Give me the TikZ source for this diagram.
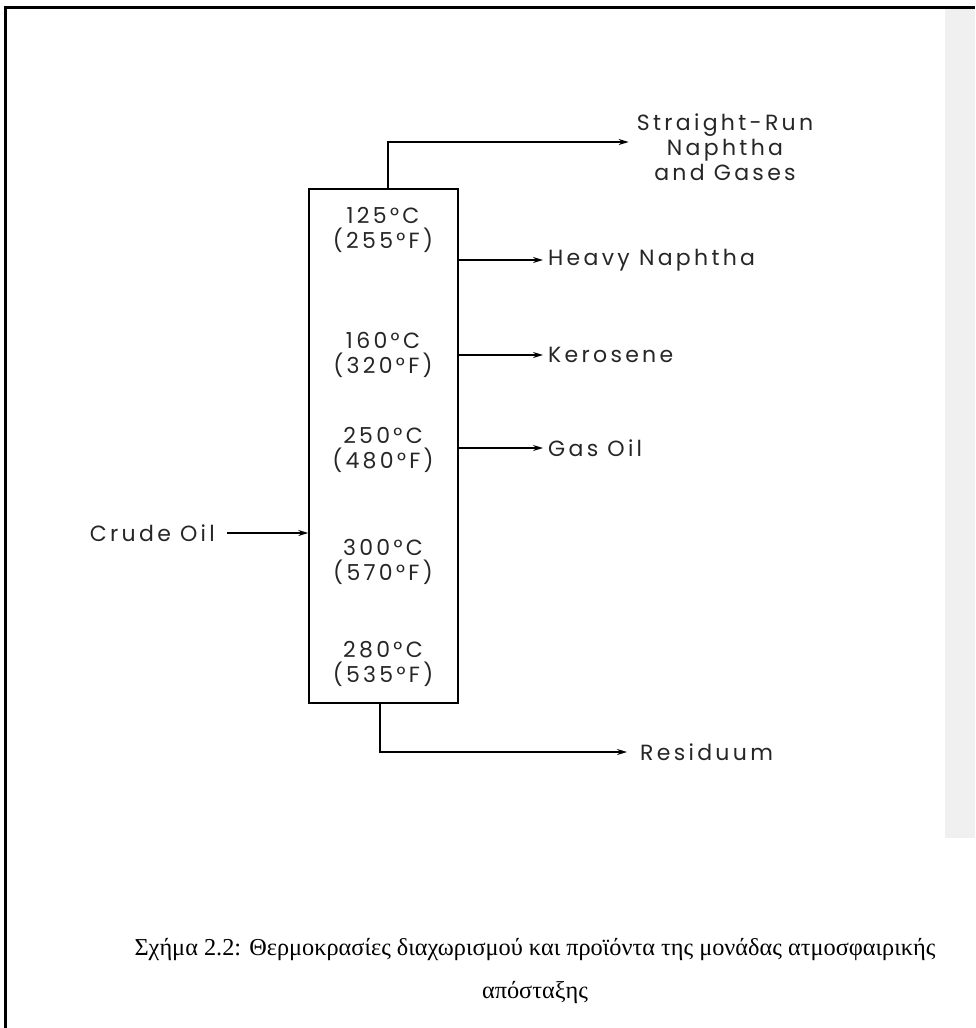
\documentclass[tikz,border=0pt]{standalone}
\usepackage{fontspec}
\usetikzlibrary{arrows.meta,positioning,calc}
\setmainfont{Liberation Serif}
\newfontfamily\labelfont[LetterSpace=15]{Poppins}
\definecolor{band}{HTML}{F0F0F0}

\begin{document}
\begin{tikzpicture}[x=1pt,y=-1pt,
  flow/.style={line width=1.3pt,-{Stealth[length=10pt,width=6pt]}},
  lbl/.style={font=\labelfont\fontsize{22}{25}\selectfont,text=black!85,inner sep=0pt},
  temp/.style={lbl,align=center}]
  \useasboundingbox (0,0) rectangle (975,1028);

  % Page frame and side band
  \fill[band] (945,9) rectangle (975,838);
  \draw[line width=3pt] (5,1028) -- (5,7) -- (975,7);

  % Column
  \node[draw,line width=1.5pt,minimum width=149pt,minimum height=514pt,inner sep=0pt] (col) at (383.5,446) {};

  % Temperatures
  \foreach \y/\c/\f [count=\i] in {230/125/255, 355/160/320, 450/250/480, 562/300/570, 664/280/535}
    \node[temp] (t\i) at (383,\y) {\c°C\\(\f°F)};

  % Products
  \node[lbl,align=center] (sr) at (725,147) {Straight-Run\\Naphtha\\and Gases};
  \node[lbl,anchor=west] (heavy) at (548,260) {Heavy Naphtha};
  \node[lbl,anchor=west] (kero) at (548,355) {Kerosene};
  \node[lbl,anchor=west] (gasoil) at (548,448) {Gas Oil};
  \node[lbl,anchor=west] (resid) at (640,752) {Residuum};
  \coordinate (srbend) at (388,142);
  \coordinate (rbend) at (380,752);
  \draw[flow] (srbend |- col.north) -- (srbend) -- ([xshift=-8pt]srbend -| sr.west);
  \foreach \p in {heavy,kero,gasoil}
    \draw[flow,shorten >=5pt] (col.east |- \p) -- (\p.west);
  \draw[flow,shorten >=13pt] (rbend |- col.south) -- (rbend) -- (resid.west);

  % Feed
  \node[lbl,anchor=east] (crude) at (215,533) {Crude Oil};
  \draw[flow,shorten <=12pt] (crude.east) -- (crude.east -| col.west);

  % Caption
  \node[font=\fontsize{24.3}{43}\selectfont,align=center] (cap) at (535,971.5) {Σχήμα 2.2: Θερμοκρασίες διαχωρισμού και προϊόντα της μονάδας ατμοσφαιρικής\\απόσταξης};
\end{tikzpicture}
\end{document}
